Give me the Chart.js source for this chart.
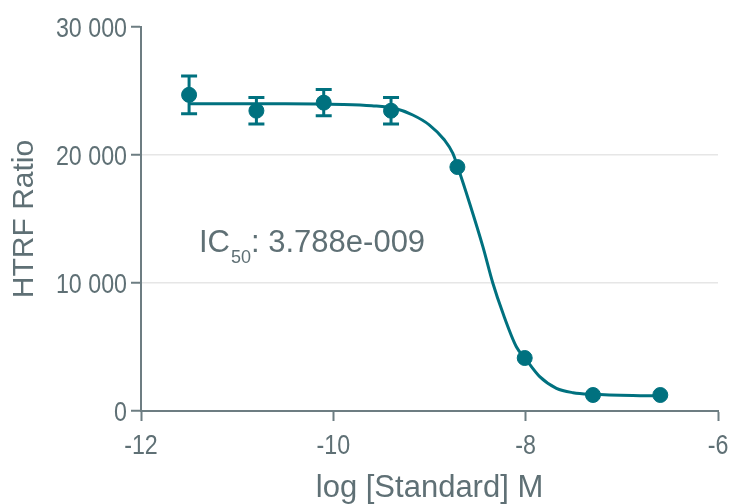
<!DOCTYPE html>
<html>
<head>
<meta charset="utf-8">
<script src="https://cdn.jsdelivr.net/npm/chart.js@4/dist/chart.umd.min.js"></script>
<style>
  html, body { margin: 0; padding: 0; background: #fff; }
  #wrap { width: 731px; height: 504px; }
</style>
</head>
<body>
<div id="wrap"><canvas id="ic50Chart" width="731" height="504"></canvas></div>
<script>
// measured points (log M, HTRF ratio, sd)
const logConc = [-11.5, -10.8, -10.1, -9.4, -8.71, -8.01, -7.3, -6.6];
const ratio = [24700, 23460, 24090, 23460, 19060, 4140, 1250, 1250];
const sd = [1480, 1040, 1030, 1040, 0, 0, 0, 0];

// fitted curve
const fitX = [-11.5, -10.5, -9.9, -9.6, -9.365, -9.174, -9.0, -8.844, -8.757, -8.705, -8.583, -8.445,
              -8.341, -8.236, -8.097, -8.0, -7.854, -7.68, -7.507, -7.305, -6.81, -6.6];
const fitY = [24000, 24000, 23950, 23850, 23650, 23125, 22340, 21170, 20130, 19040, 16230, 12840,
              9980, 7630, 5025, 4060, 2680, 1770, 1430, 1300, 1200, 1190];

const xTicks = [-12, -10, -8, -6];
const yTicks = [0, 10000, 20000, 30000];
const ic50Label = "3.788e-009";

const TEAL = "#00717f";
const GREY = "#5f7075";
const AXIS = "#6d7d82";
const SANS = "'Liberation Sans', Arial, sans-serif";
const TICK_FONT = "28px " + SANS;
const SQUEEZE = 0.83;   // tick labels are set in a condensed face

const fmtThousands = v => String(v).replace(/\B(?=(\d{3})+(?!\d))/g, " ");

const errorBars = {
    id: "errorBars",
    beforeDatasetsDraw(chart) {
        const { ctx, scales: { x, y } } = chart;
        ctx.save();
        ctx.strokeStyle = TEAL;
        ctx.lineWidth = 3;
        logConc.forEach((lx, i) => {
            if (!sd[i]) return;
            const px = x.getPixelForValue(lx);
            const top = y.getPixelForValue(ratio[i] + sd[i]);
            const bot = y.getPixelForValue(ratio[i] - sd[i]);
            ctx.beginPath();
            ctx.moveTo(px, top); ctx.lineTo(px, bot);
            ctx.moveTo(px - 8, top); ctx.lineTo(px + 8, top);
            ctx.moveTo(px - 8, bot); ctx.lineTo(px + 8, bot);
            ctx.stroke();
        });
        ctx.restore();
    }
};

// condensed tick labels
const narrowTicks = {
    id: "narrowTicks",
    afterDraw(chart) {
        const { ctx, scales: { x, y } } = chart;
        ctx.save();
        ctx.fillStyle = GREY;
        ctx.font = TICK_FONT;
        ctx.textBaseline = "alphabetic";
        xTicks.forEach(v => {
            ctx.save();
            ctx.translate(x.getPixelForValue(v), x.top + 43);
            ctx.scale(SQUEEZE, 1);
            ctx.textAlign = "center";
            ctx.fillText(String(v), 0, 0);
            ctx.restore();
        });
        yTicks.forEach(v => {
            ctx.save();
            ctx.translate(y.right - 14, y.getPixelForValue(v) + 10);
            ctx.scale(SQUEEZE, 1);
            ctx.textAlign = "right";
            ctx.fillText(fmtThousands(v), 0, 0);
            ctx.restore();
        });
        ctx.restore();
    }
};

const ic50Text = {
    id: "ic50Text",
    afterDraw(chart) {
        const { ctx, chartArea } = chart;
        const x0 = chartArea.left + 58;
        const base = chartArea.top + 225;
        ctx.save();
        ctx.fillStyle = GREY;
        ctx.textBaseline = "alphabetic";
        ctx.font = "31px " + SANS;
        ctx.fillText("IC", x0, base);
        let cx = x0 + ctx.measureText("IC").width + 1;
        ctx.font = "18px " + SANS;
        ctx.fillText("50", cx, base + 11);
        cx += ctx.measureText("50").width;
        ctx.font = "31px " + SANS;
        ctx.fillText(": " + ic50Label, cx, base);
        ctx.restore();
    }
};

new Chart(document.getElementById("ic50Chart"), {
    type: "scatter",
    data: {
        datasets: [
            {
                label: "points",
                data: logConc.map((v, i) => ({ x: v, y: ratio[i] })),
                backgroundColor: TEAL,
                borderColor: TEAL,
                pointRadius: 7.5,
                pointHoverRadius: 7.5,
                showLine: false,
                order: 0
            },
            {
                label: "fit",
                data: fitX.map((v, i) => ({ x: v, y: fitY[i] })),
                showLine: true,
                borderColor: TEAL,
                borderWidth: 3,
                pointRadius: 0,
                cubicInterpolationMode: "monotone",
                order: 1
            }
        ]
    },
    options: {
        responsive: false,
        animation: false,
        events: [],
        layout: { padding: { top: 27, right: 13, left: 0, bottom: 0 } },
        plugins: { legend: { display: false }, tooltip: { enabled: false } },
        scales: {
            x: {
                type: "linear",
                min: -12, max: -6,
                afterBuildTicks: s => { s.ticks = xTicks.map(v => ({ value: v })); },
                afterFit: s => { s.height = 93; },
                border: { color: AXIS, width: 2 },
                grid: { drawOnChartArea: false, tickLength: 10, tickColor: AXIS, tickWidth: 2 },
                ticks: { display: false },
                title: {
                    display: true, text: "log [Standard] M", color: GREY,
                    font: { family: SANS, size: 31, lineHeight: 1 }, padding: { top: 0, bottom: 0 }
                }
            },
            y: {
                type: "linear",
                min: 0, max: 30000,
                afterBuildTicks: s => { s.ticks = yTicks.map(v => ({ value: v })); },
                afterFit: s => { s.width = 141; },
                border: { color: AXIS, width: 2 },
                grid: {
                    color: c => (c.tick && (c.tick.value === 0 || c.tick.value === 30000)) ? "rgba(0,0,0,0)" : "#e6e6e6",
                    lineWidth: 1.5,
                    tickLength: 10, tickColor: AXIS, tickWidth: 2
                },
                ticks: { display: false },
                title: {
                    display: true, text: "HTRF Ratio", color: GREY,
                    font: { family: SANS, size: 30, lineHeight: 1 }, padding: { top: 10, bottom: 0 }
                }
            }
        }
    },
    plugins: [errorBars, narrowTicks, ic50Text]
});
</script>
</body>
</html>
